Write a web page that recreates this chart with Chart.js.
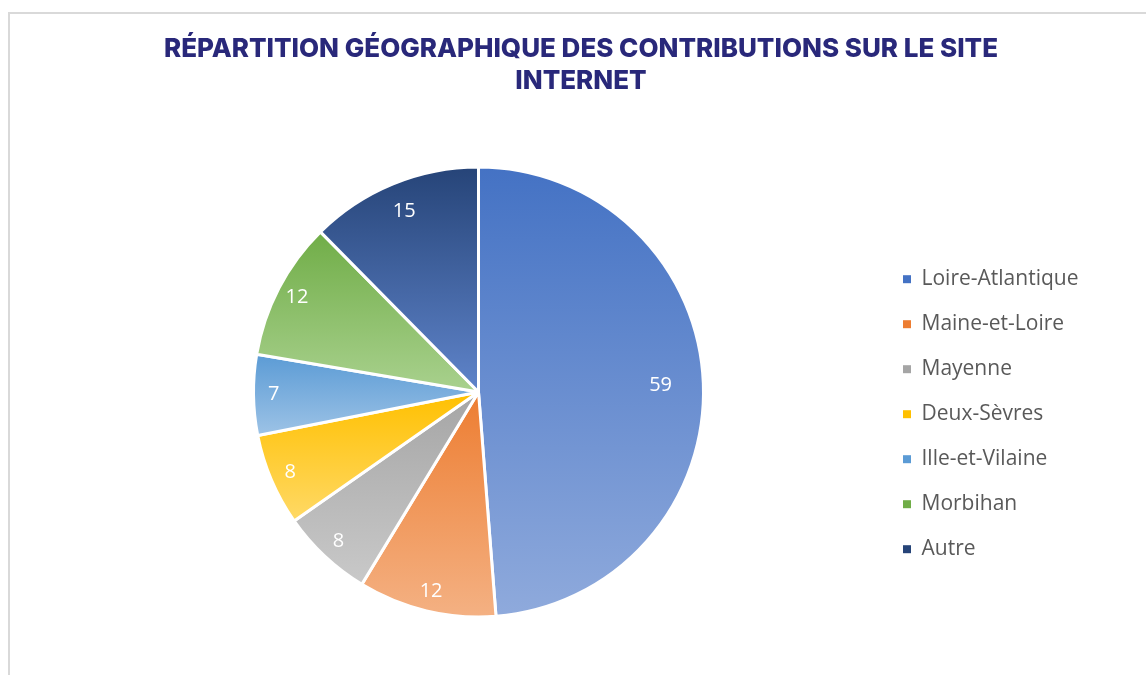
<!DOCTYPE html>
<html lang="fr">
<head>
<meta charset="utf-8">
<title>Répartition géographique des contributions</title>
<script src="https://cdn.jsdelivr.net/npm/chart.js@4/dist/chart.umd.min.js"></script>
<style>
  html, body { margin: 0; padding: 0; background: #fff; overflow: hidden; }
  .frame {
    position: absolute; left: 8px; top: 12px;
    width: 1150px; height: 700px;
    border-top: 2px solid #d9d9d9; border-left: 2px solid #d9d9d9;
  }
</style>
</head>
<body>
<div class="frame">
  <canvas id="pieGeo" width="1150" height="700"></canvas>
</div>
<script>
// Données du graphique
const departements = ['Loire-Atlantique', 'Maine-et-Loire', 'Mayenne', 'Deux-Sèvres', 'Ille-et-Vilaine', 'Morbihan', 'Autre'];
const contributions = [59, 12, 8, 8, 7, 12, 15];
const couleursHaut = ['#4472C4', '#ED7D31', '#A5A5A5', '#FFC000', '#5B9BD5', '#70AD47', '#264478'];
const couleursBas = ['#8FAADC', '#F4B183', '#C9C9C9', '#FFD966', '#9DC3E6', '#A9D18E', '#5F84CA'];

const RAYON = 225;
const total = contributions.reduce((a, b) => a + b, 0);

// Dégradé vertical calé sur la hauteur de chaque part
function degradePart(context) {
  const chart = context.chart;
  const area = chart.chartArea;
  const i = context.dataIndex;
  if (!area) return couleursHaut[i];
  const cx = (area.left + area.right) / 2;
  const cy = (area.top + area.bottom) / 2;
  const avant = contributions.slice(0, i).reduce((a, b) => a + b, 0);
  const a0 = -Math.PI / 2 + 2 * Math.PI * avant / total;
  const a1 = a0 + 2 * Math.PI * contributions[i] / total;
  const ys = [cy, cy + RAYON * Math.sin(a0), cy + RAYON * Math.sin(a1)];
  [Math.PI / 2, 3 * Math.PI / 2].forEach(a => {
    if (a > a0 && a < a1) ys.push(cy + RAYON * Math.sin(a));
  });
  const g = chart.ctx.createLinearGradient(0, Math.min(...ys), 0, Math.max(...ys));
  g.addColorStop(0, couleursHaut[i]);
  g.addColorStop(1, couleursBas[i]);
  return g;
}

// Étiquettes de valeurs dans les parts (grosse part : plus vers le centre)
const etiquettes = {
  id: 'etiquettes',
  afterDatasetsDraw(chart) {
    const ctx = chart.ctx;
    const meta = chart.getDatasetMeta(0);
    ctx.save();
    ctx.fillStyle = '#ffffff';
    ctx.font = '20px "Open Sans"';
    ctx.textAlign = 'center';
    ctx.textBaseline = 'middle';
    meta.data.forEach((arc, i) => {
      const mid = (arc.startAngle + arc.endAngle) / 2;
      const part = contributions[i] / total;
      const r = arc.outerRadius * (part > 0.3 ? 0.81 : part > 0.11 ? 0.87 : 0.91);
      ctx.fillText(String(contributions[i]), arc.x + r * Math.cos(mid), arc.y + r * Math.sin(mid));
    });
    ctx.restore();
  }
};

const ctx = document.getElementById('pieGeo').getContext('2d');
new Chart(ctx, {
  type: 'pie',
  data: {
    labels: departements,
    datasets: [{
      data: contributions,
      backgroundColor: degradePart,
      borderColor: '#ffffff',
      borderWidth: 3,
      radius: RAYON
    }]
  },
  options: {
    responsive: false,
    animation: false,
    events: [],
    layout: {
      padding: { left: 68, right: 76, top: 0, bottom: 36 }
    },
    plugins: {
      title: {
        display: true,
        text: ['RÉPARTITION GÉOGRAPHIQUE DES CONTRIBUTIONS SUR LE SITE', 'INTERNET'],
        color: '#29287A',
        font: { family: 'Inter', size: 26, weight: 800, lineHeight: 32 / 26 },
        padding: { top: 19, bottom: 9 }
      },
      legend: {
        position: 'right',
        fullSize: false,
        maxWidth: 205,
        title: { display: true, text: ' ', padding: 15, font: { size: 12 } },
        labels: {
          boxWidth: 8,
          boxHeight: 8,
          padding: 24,
          color: '#595959',
          font: { family: 'Open Sans', size: 21 },
          generateLabels: () => departements.map((nom, i) => ({
            text: nom,
            fillStyle: couleursHaut[i],
            strokeStyle: couleursHaut[i],
            lineWidth: 0,
            fontColor: '#595959',
            index: i
          }))
        }
      },
      tooltip: { enabled: false }
    }
  },
  plugins: [etiquettes]
});
</script>
</body>
</html>
